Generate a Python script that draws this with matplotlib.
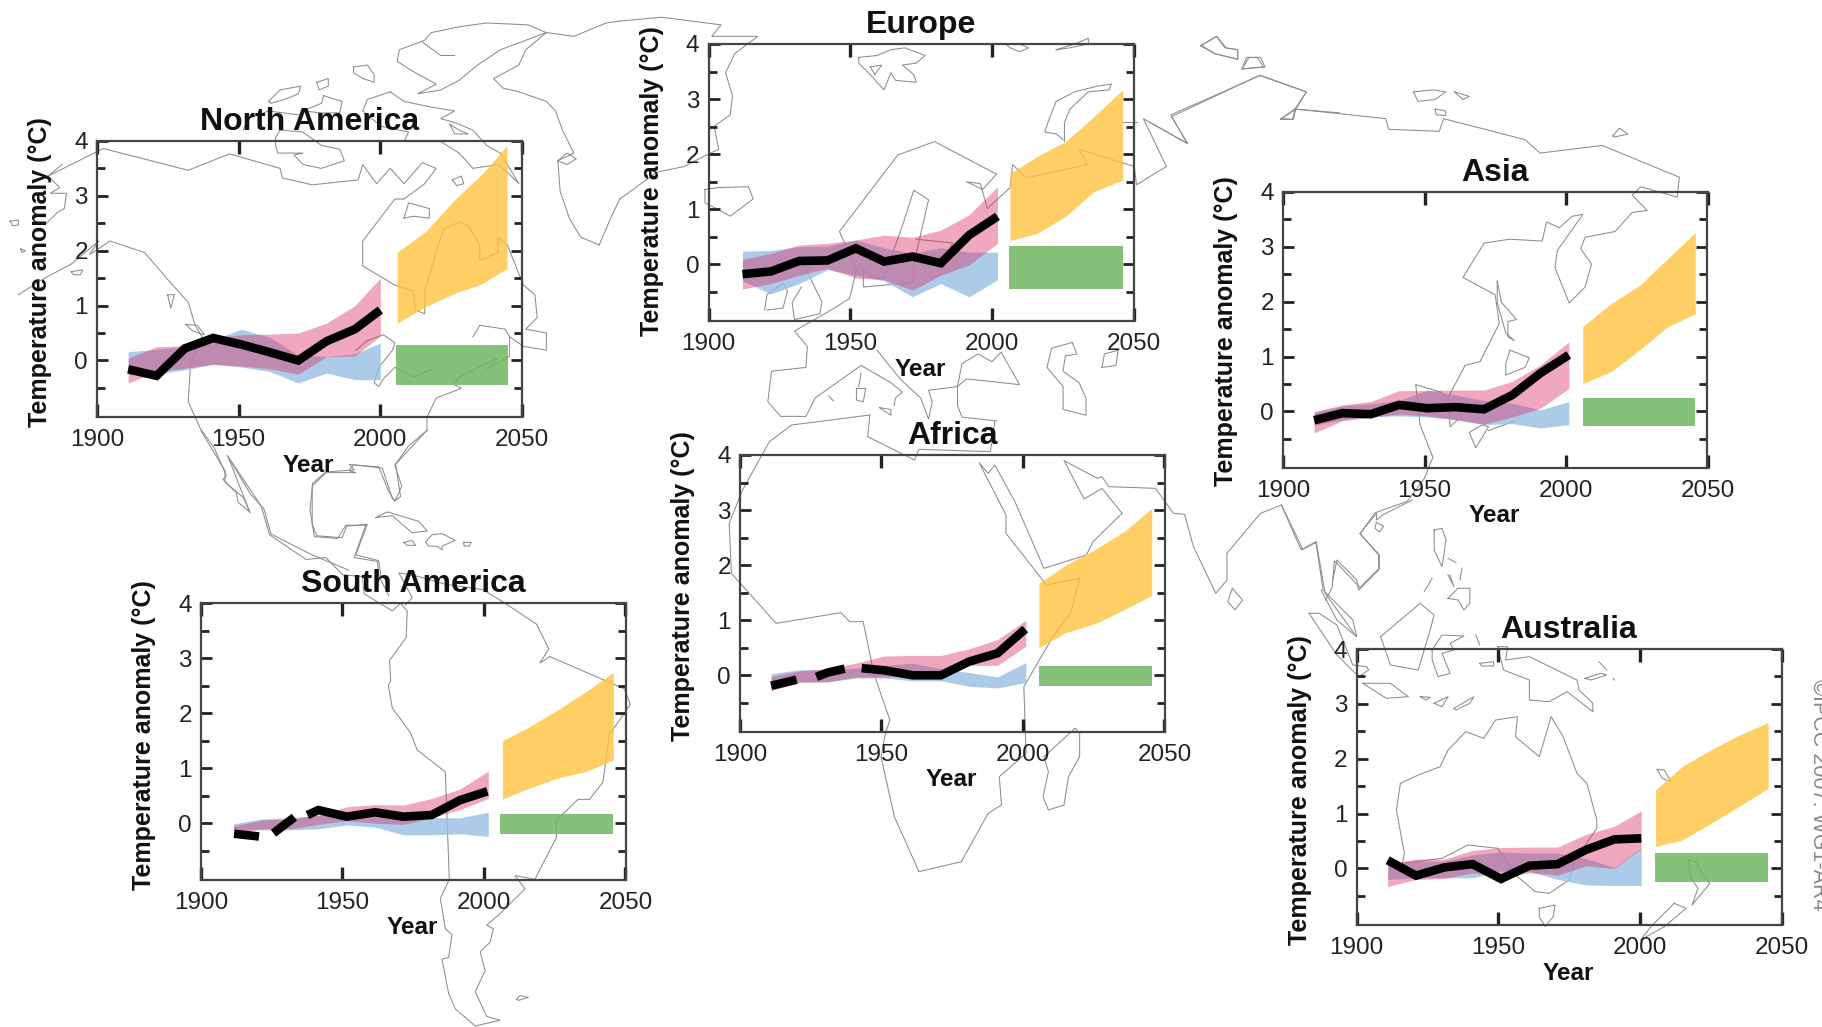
import numpy as np
import matplotlib
matplotlib.use("Agg")
import matplotlib.pyplot as plt

plt.rcParams['font.family'] = ['Liberation Sans', 'DejaVu Sans']

W, H = 1822, 1027

# ---------------- values ----------------
NA_YEARS = [1911, 1921, 1931, 1941, 1951, 1961, 1971, 1981, 1991, 2000]
NA_MEAN_X = [1911, 1921, 1931, 1941, 1951, 1961, 1971, 1981, 1991, 2000]
NA_MEAN = [-0.16, -0.28, 0.22, 0.41, 0.29, 0.15, 0.0, 0.35, 0.57, 0.92]
NA_PINK_HI = [0.04, 0.25, 0.27, 0.42, 0.47, 0.48, 0.5, 0.68, 1.0, 1.5]
NA_PINK_LO = [-0.41, -0.2, -0.14, -0.07, -0.1, -0.15, -0.25, 0.07, 0.08, 0.45]
NA_BLUE_HI = [0.16, 0.2, 0.26, 0.38, 0.57, 0.42, 0.1, 0.07, 0.12, 0.32]
NA_BLUE_LO = [-0.25, -0.25, -0.17, -0.07, -0.12, -0.2, -0.41, -0.23, -0.35, -0.35]
NA_FUT_X = [2005.9, 2016, 2026, 2036, 2044.7]
NA_ORANGE_HI = [1.97, 2.35, 2.92, 3.4, 3.92]
NA_ORANGE_LO = [0.68, 0.98, 1.22, 1.4, 1.68]
NA_GREEN_X = [2005.4, 2045.2]
NA_GREEN = [-0.45, 0.28]

EU_YEARS = [1912, 1922, 1932, 1942, 1952, 1962, 1972, 1982, 1992, 2002]
EU_MEAN_X = [1912, 1922, 1932, 1942, 1952, 1962, 1972, 1982, 1992, 2002]
EU_MEAN = [-0.18, -0.13, 0.06, 0.07, 0.29, 0.05, 0.14, 0.02, 0.53, 0.87]
EU_PINK_HI = [0.09, 0.2, 0.35, 0.38, 0.44, 0.53, 0.49, 0.62, 0.9, 1.41]
EU_PINK_LO = [-0.45, -0.35, -0.2, -0.07, -0.25, -0.28, -0.47, -0.2, -0.01, 0.38]
EU_BLUE_HI = [0.24, 0.25, 0.32, 0.33, 0.44, 0.3, 0.2, 0.3, 0.22, 0.22]
EU_BLUE_LO = [-0.3, -0.54, -0.35, -0.1, -0.2, -0.3, -0.59, -0.35, -0.59, -0.28]
EU_FUT_X = [2006.4, 2016, 2026, 2036, 2046.2]
EU_ORANGE_HI = [1.65, 1.96, 2.23, 2.68, 3.17]
EU_ORANGE_LO = [0.43, 0.56, 0.87, 1.32, 1.53]
EU_GREEN_X = [2006.2, 2046.2]
EU_GREEN = [-0.45, 0.33]

AS_YEARS = [1911, 1921, 1931, 1941, 1951, 1961, 1971, 1981, 1991, 2001]
AS_MEAN_X = [1911, 1921, 1931, 1941, 1951, 1961, 1971, 1981, 1991, 2001]
AS_MEAN = [-0.16, -0.03, -0.05, 0.12, 0.06, 0.08, 0.04, 0.3, 0.7, 1.03]
AS_PINK_HI = [0.0, 0.12, 0.18, 0.38, 0.38, 0.39, 0.39, 0.55, 0.85, 1.27]
AS_PINK_LO = [-0.39, -0.17, -0.1, -0.05, -0.08, -0.15, -0.23, -0.1, 0.06, 0.42]
AS_BLUE_HI = [-0.02, 0.1, 0.14, 0.2, 0.39, 0.3, 0.2, 0.15, 0.03, 0.18]
AS_BLUE_LO = [-0.25, -0.15, -0.1, -0.08, -0.1, -0.15, -0.24, -0.22, -0.3, -0.24]
AS_FUT_X = [2005.9, 2016, 2026, 2036, 2045.7]
AS_ORANGE_HI = [1.55, 1.97, 2.3, 2.79, 3.26]
AS_ORANGE_LO = [0.51, 0.73, 1.12, 1.55, 1.78]
AS_GREEN_X = [2005.9, 2045.7]
AS_GREEN = [-0.27, 0.25]

AF_YEARS = [1911, 1921, 1931, 1941, 1951, 1961, 1971, 1981, 1991, 2001]
AF_MEAN_X = [1911, 1920, np.nan, 1927, 1931, 1937, np.nan, 1943, 1951, 1961, 1971, 1981, 1991, 2000.8]
AF_MEAN = [-0.19, -0.08, np.nan, -0.03, 0.05, 0.12, np.nan, 0.13, 0.09, 0.0, 0.0, 0.25, 0.4, 0.84]
AF_PINK_HI = [-0.02, 0.08, 0.12, 0.22, 0.35, 0.36, 0.36, 0.48, 0.65, 1.0]
AF_PINK_LO = [-0.28, -0.13, -0.12, -0.03, -0.03, -0.02, 0.03, 0.18, 0.18, 0.53]
AF_BLUE_HI = [0.03, 0.1, 0.1, 0.13, 0.18, 0.22, 0.12, 0.05, -0.03, 0.23]
AF_BLUE_LO = [-0.2, -0.12, -0.12, -0.05, -0.05, -0.1, -0.1, -0.2, -0.23, -0.13]
AF_FUT_X = [2005.6, 2015, 2026, 2036, 2045.5]
AF_ORANGE_HI = [1.67, 2.0, 2.3, 2.62, 3.03]
AF_ORANGE_LO = [0.5, 0.77, 0.95, 1.2, 1.45]
AF_GREEN_X = [2005.6, 2045.5]
AF_GREEN = [-0.19, 0.17]

SA_YEARS = [1911.5, 1921.5, 1931.5, 1941.5, 1951.5, 1961.5, 1971.5, 1981.5, 1991.5, 2001.5]
SA_MEAN_X = [1911.7, 1920.5, np.nan, 1925.6, 1933, np.nan, 1937.6, 1941.5, 1951.5, 1961.5, 1971.5, 1981.5, 1991.5, 2001.2]
SA_MEAN = [-0.19, -0.24, np.nan, -0.18, 0.11, np.nan, 0.15, 0.24, 0.12, 0.2, 0.12, 0.15, 0.42, 0.58]
SA_PINK_HI = [-0.05, 0.06, 0.08, 0.15, 0.3, 0.34, 0.33, 0.45, 0.62, 0.95]
SA_PINK_LO = [-0.18, -0.1, -0.1, -0.02, 0.05, 0.0, -0.02, 0.1, 0.25, 0.45]
SA_BLUE_HI = [-0.01, 0.08, 0.1, 0.14, 0.18, 0.18, 0.1, 0.1, 0.1, 0.2]
SA_BLUE_LO = [-0.12, -0.12, -0.12, -0.1, -0.03, -0.07, -0.21, -0.21, -0.19, -0.24]
SA_FUT_X = [2006.5, 2016, 2026, 2036, 2045.7]
SA_ORANGE_HI = [1.5, 1.75, 2.06, 2.39, 2.74]
SA_ORANGE_LO = [0.44, 0.64, 0.82, 0.94, 1.15]
SA_GREEN_X = [2005.6, 2045.5]
SA_GREEN = [-0.2, 0.16]

AU_YEARS = [1911, 1921, 1931, 1941, 1951, 1961, 1971, 1981, 1991, 2000.5]
AU_MEAN_X = [1911, 1921, 1931, 1941, 1951, 1961, 1971, 1981, 1991, 2000.5]
AU_MEAN = [0.15, -0.13, 0.02, 0.08, -0.19, 0.05, 0.08, 0.34, 0.53, 0.55]
AU_PINK_HI = [0.08, 0.17, 0.17, 0.33, 0.38, 0.39, 0.39, 0.62, 0.77, 1.05]
AU_PINK_LO = [-0.33, -0.2, -0.18, -0.08, -0.15, -0.08, -0.12, 0.05, 0.0, 0.37]
AU_BLUE_HI = [0.07, 0.13, 0.13, 0.25, 0.3, 0.28, 0.28, 0.18, 0.02, 0.38]
AU_BLUE_LO = [-0.2, -0.17, -0.17, -0.17, -0.05, -0.05, -0.2, -0.3, -0.31, -0.31]
AU_FUT_X = [2005.5, 2015, 2025, 2035, 2045.3]
AU_ORANGE_HI = [1.43, 1.86, 2.16, 2.43, 2.66]
AU_ORANGE_LO = [0.4, 0.52, 0.82, 1.13, 1.46]
AU_GREEN_X = [2005.5, 2045.3]
AU_GREEN = [-0.24, 0.28]

TITLES = ["North America", "Europe", "Asia", "Africa", "South America", "Australia"]
X_TICKS = [1900, 1950, 2000, 2050]
Y_TICKS = [0, 1, 2, 3, 4]
Y_MINOR = [-0.5, 0.5, 1.5, 2.5, 3.5]
Y_LABEL = "Temperature anomaly (°C)"
X_LABEL = "Year"
CREDIT = "©IPCC 2007: WG1-AR4"

# ---------------- world map outline for the backdrop ----------------
# traced from enlarged views; each group is in its own view's units
COAST_A = [
    [(1305,640),(1265,620),(1240,570),(1220,500),(1215,420),(1250,400),(1225,340),(1210,290),(1190,265),(1130,240),(1095,230),(1075,205),(1130,170),(1145,130),(1190,85),(1250,95),(1320,60),(1350,55)],
    [(1350,520),(1330,570),(1305,640)],
    [(1190,85),(1150,65),(1060,60),(1000,70),(940,85),(925,105),(870,130),(865,160),(890,180),(950,220),(910,245),(960,235),(1000,210),(1040,170),(1090,130),(1190,85)],
    [(920,110),(960,145),(990,145)],
    [(770,175),(800,170),(815,195),(815,215),(790,205),(770,190),(770,175)],
    [(690,215),(715,205),(715,225),(695,235),(690,215)],
    [(585,265),(610,235),(655,225),(650,245),(620,260),(590,270),(585,265)],
    [(705,250),(745,265),(740,295),(700,295),(660,290),(700,270),(705,250)],
    [(850,240),(880,265),(940,280),(990,290),(960,310),(990,320),(1030,340),(1060,380),(1090,400),(1130,480),(1105,450),(1085,430),(1030,440),(1000,400),(960,370),(880,370),(890,345),(830,330),(790,290),(800,260),(850,240)],
    [(600,360),(610,340),(660,345),(700,380),(740,390),(750,420),(700,440),(660,430),(640,405),(660,400),(605,400),(600,380),(600,360)],
    [(530,340),(540,310),(585,290),(650,300)],
    [(980,325),(1000,340),(1020,350),(990,350),(980,325)],
    [(135,430),(105,460),(225,388),(410,445),(500,402),(610,440),(615,465),(680,483),(780,470),(790,430),(820,480),(850,440),(880,480),(920,425),(950,440),(925,480),(880,520),(860,520),(790,630),(790,695),(860,745),(900,760),(905,810),(925,820),(925,760),(965,600),(1000,580),(1020,590),(1045,640),(1045,680),(1085,660),(1085,620),(1105,640),(1140,745),(1165,770),(1170,830),(1145,860),(1190,870),(1190,915),(1140,905),(1110,880),(1110,930),(1060,965),(1085,935),(1000,985),(990,1005),(1005,1015),(950,1040),(930,1090),(930,1125),(890,1165),(860,1215),(875,1270),(860,1310),(845,1280),(825,1220),(770,1215),(760,1230),(775,1235),(710,1235),(680,1270),(680,1370),(690,1400),(745,1405),(755,1375),(800,1370),(775,1450),(825,1465),(830,1510)],
    [(1030,880),(1045,850),(1100,860),(1110,880)],
    [(880,570),(890,530),(935,545),(935,570),(900,565),(880,570)],
    [(985,470),(1005,460),(1010,480),(995,485),(985,470)],
    [(1215,420),(1235,400),(1255,415),(1235,430),(1215,420)],
    [(775,915),(800,890),(835,875),(860,895),(855,915),(825,960),(815,1000),(825,1010),(835,990),(860,960),(900,985),(940,965)],
    [(105,460),(130,490),(110,505),(145,505),(140,545),(125,555),(100,585)],
    [(40,770),(100,725),(155,690),(215,630),(195,665),(240,630),(315,660),(365,730),(410,790),(425,850),(440,880),(415,950),(410,1050),(440,1130),(490,1230),(490,1260),(530,1300),(545,1340)],
    [(495,1190),(545,1290),(575,1330),(590,1395),(680,1450),(760,1490)],
    [(22,578),(40,575),(40,588),(28,590),(22,578)],
    [(45,650),(55,655),(48,660),(45,650)],
    [(155,710),(180,705),(175,718),(160,718),(155,710)],
    [(365,770),(380,770),(372,805),(365,770)],
    [(405,848),(430,850),(445,875),(420,865),(405,848)],
]
COAST_B = [
    [(0,55),(90,45),(220,65),(200,95),(300,95),(250,140),(230,190),(245,250),(240,300),(205,330),(215,390),(180,410),(140,435),(80,450),(0,520)],
    [(185,495),(215,490),(280,488),(290,520),(240,565),(210,545),(185,530),(185,495)],
    [(520,150),(560,145),(590,130),(620,125),(665,145),(645,165),(615,170),(640,195),(645,215),(600,210),(590,190),(575,235),(545,195),(520,165),(520,150)],
    [(545,175),(570,170),(555,195),(545,175)],
    [(840,115),(870,115),(890,125),(870,135),(850,125),(840,115)],
    [(950,130),(990,115),(1020,100),(1020,115),(980,125),(950,130)],
    [(1070,220),(1040,225),(990,240),(950,265),(935,310),(925,345),(950,350),(965,365)],
    [(1070,220),(1065,235),(1020,240),(980,285),(968,320),(968,370)],
    [(820,455),(685,370),(605,405),(478,605),(515,705),(500,780),(460,810),(380,865),(408,905),(405,960),(330,970),(322,1050),(350,1088),(405,1088),(425,1040),(525,955),(590,1000),(615,1025),(600,1040),(597,1060)],
    [(530,705),(530,750),(640,738),(640,690),(672,522),(640,497),(615,590),(575,725),(555,725),(530,705)],
    [(645,625),(725,635),(695,695)],
    [(820,455),(790,495),(755,475),(785,480),(800,545),(850,490),(855,430),(885,465),(1018,430),(1000,390),(1120,435),(1125,483),(1190,435),(1140,310),(1235,375),(1200,300),(1395,197),(1495,240),(1470,285),(1568,295)],
    [(1125,320),(1095,320)],
    [(1440,310),(1470,285),(1465,312),(1440,310)],
    [(315,810),(320,770),(355,740),(365,760),(355,805),(320,810)],
    [(400,690),(440,790),(435,820),(380,835),(375,790),(395,750)],
    [(1265,120),(1300,95),(1320,125),(1345,130),(1345,155),(1295,140),(1265,120)],
    [(1355,180),(1370,150),(1395,150),(1405,175),(1355,180)],
    [(985,895),(940,910),(930,960),(965,1010),(965,1070),(1015,1085),(1015,1040),(1000,1000),(965,970),(970,930),(995,925),(985,895)],
    [(560,915),(610,990),(655,1040),(672,1095),(680,1050),(672,1020),(735,1010),(755,990),(870,1005),(830,920),(810,945),(780,925),(745,950),(735,1010),(735,1060),(745,1090),(820,1100)],
    [(515,1015),(535,1015),(530,1050),(515,1045),(515,1015)],
    [(525,975),(520,1010)],
    [(565,1065),(590,1070),(590,1085),(565,1065)],
    [(455,1035),(465,1048)],
    [(1050,960),(1055,925),(1085,915),(1080,955),(1050,960)],
]
COAST_C = [
    [(0,320),(88,375),(50,305),(255,197),(365,240),(340,285),(550,310),(557,338),(675,343),(685,310),(875,365),(910,400),(1055,380),(1235,463),(1230,515),(1145,488),(1125,510),(1160,550),(1125,555),(1085,605),(1015,620),(1005,650),(1030,690),(1015,750),(978,792),(945,700),(950,655),(1010,560),(985,565),(955,595),(925,580),(915,630),(840,625),(780,635),(730,725),(805,770),(815,845),(770,945),(735,955),(695,1040),(700,1115),(720,1095)],
    [(620,1005),(680,1025),(695,1040)],
    [(620,1005),(630,1110),(660,1195),(640,1250),(600,1310),(525,1340),(490,1395),(535,1450),(535,1485),(490,1535),(430,1465),(425,1535),(410,1568)],
    [(810,735),(820,790),(855,835),(835,840),(835,880),(850,890),(830,870),(810,790),(810,735)],
    [(840,915),(885,935),(875,960),(830,980),(830,950),(840,915)],
    [(745,1130),(775,1110),(790,1115),(760,1170),(745,1130)],
    [(790,1125),(850,1100)],
    [(528,1365),(545,1375),(535,1390),(525,1380),(528,1365)],
    [(120,118),(155,95),(175,125),(205,130),(205,155),(150,140),(120,118)],
    [(215,180),(225,150),(250,150),(265,175),(215,180)],
    [(615,240),(660,235),(690,240),(665,260),(625,265),(615,240)],
    [(710,240),(745,252),(730,260),(710,240)],
    [(665,285),(690,290),(690,302),(668,300),(665,285)],
    [(1080,355),(1095,335),(1115,350),(1085,358),(1080,355)],
    [(305,312),(340,285),(335,312),(305,312)],
]
COAST_D = [
    [(65,0),(105,50),(140,120),(130,130),(170,165),(175,190),(210,215),(145,70),(245,200),(270,275),(380,340),(440,335),(490,380),(550,385),(555,430),(640,475),(665,455),(685,475),(682,545),(632,605),(635,660),(628,670),(640,730),(695,795),(715,840),(800,898),(812,1180),(785,1230),(800,1310),(820,1325),(810,1385),(790,1390),(810,1480),(830,1520),(890,1565),(965,1550),(925,1540),(890,1475),(920,1420),(905,1370),(935,1345),(945,1310),(925,1300),(965,1270),(1040,1205),(1010,1170),(1070,1180),(1135,1070),(1135,1025),(1200,970),(1235,970),(1275,925),(1295,800),(1358,720),(1340,680),(1115,595),(1085,612),(1112,575),(1075,510),(980,455),(915,420),(880,415),(800,405),(720,385),(660,375),(700,440),(680,460)],
    [(630,435),(600,385),(595,345),(525,335),(560,250),(500,250),(475,285),(405,280),(392,210),(400,140),(440,110),(525,105),(510,90),(610,100),(640,180),(650,185),(665,175),(650,90),(745,0)],
    [(590,230),(625,215),(720,240),(745,265),(700,270),(640,225),(590,230)],
    [(740,295),(760,275),(790,272),(830,290),(790,305),(790,315),(775,305),(750,305),(740,295)],
    [(675,295),(700,290),(710,303),(685,303),(675,295)],
    [(855,295),(878,295),(872,305),(857,305),(855,295)],
    [(1015,1495),(1025,1485),(1050,1490),(1020,1498),(1015,1495)],
]
COAST_E = [
    [(470,105),(295,135),(245,185),(185,330),(155,430),(160,580),(260,730),(405,698),(425,725),(455,725),(480,885),(515,1020),(505,1060),(495,1130),(525,1310),(580,1475),(675,1445),(735,1300),(765,1275),(760,1190),(820,1120),(815,920),(880,770),(920,700),(940,595),(865,615),(860,605),(775,460),(775,405),(715,248),(735,280),(750,255),(795,365),(860,565),(955,525),(970,485),(1035,400),(990,325),(950,357),(905,242),(980,295),(990,290),(1005,320),(1110,325),(1150,400),(1175,403),(1195,500),(1245,640),(1270,600),(1270,520),(1345,400),(1392,375),(1440,508),(1470,487),(1490,640),(1560,770)],
    [(470,105),(465,170),(570,240),(580,208),(740,215),(750,125)],
    [(930,1045),(860,1130),(870,1175),(858,1250),(870,1290),(905,1275),(915,1190),(940,1130),(940,1060),(930,1045)],
    [(1282,625),(1305,660),(1288,690),(1272,665),(1282,625)],
]
COAST_F = [
    [(292,125),(255,150),(205,15)],
    [(292,125),(310,270),(385,360),(395,410),(345,360),(305,270)],
    [(335,240),(345,180),(395,240),(400,270),(450,210),(450,165),(403,100),(445,40),(445,60),(460,45),(535,0)],
    [(275,340),(300,340),(345,375),(385,495),(420,500),(425,510),(400,530),(345,465),(275,340)],
    [(410,550),(480,550),(525,590),(470,595),(410,550)],
    [(555,590),(580,592),(570,600),(555,590)],
    [(590,610),(625,590),(610,620),(590,610)],
    [(640,625),(690,590),(680,610),(645,630),(640,625)],
    [(455,410),(555,310),(590,345),(580,390),(550,510),(480,495),(455,410)],
    [(585,450),(610,405),(665,408),(630,430),(640,450),(610,460),(630,520),(600,530),(585,480),(585,450)],
    [(565,275),(585,235)],
    [(590,90),(610,85),(620,120),(610,200),(590,150),(590,90)],
    [(625,295),(650,265),(680,265),(680,310),(665,330),(650,300),(625,295)],
    [(625,175),(645,188)],
    [(625,225),(640,260),(630,225)],
    [(660,205),(655,240)],
    [(750,440),(775,440),(770,480),(830,470),(950,540),(955,570),(990,610),(990,635),(925,575),(880,605),(830,600),(830,540),(765,510),(750,440)],
    [(705,490),(740,485),(740,498),(710,498),(705,490)],
    [(695,405),(705,435)],
    [(970,535),(1010,520),(1025,525),(985,540),(970,535)],
    [(1005,485),(1025,510)],
    [(1040,535),(1045,540)],
    [(505,850),(550,825),(605,800),(625,750),(670,695),(715,715),(745,660),(800,650),(795,710),(855,770),(885,650),(915,710),(950,820),(975,850),(1000,960),(1000,985),(945,1080),(930,1140),(880,1180),(845,1175),(800,1130),(750,1045),(675,1035),(610,1075),(510,1090),(515,1060),(495,930),(505,850)],
    [(855,1225),(895,1215),(890,1250),(870,1280),(855,1250),(855,1225)],
    [(1230,1080),(1250,1085),(1265,1120),(1285,1150),(1240,1215),(1255,1165),(1235,1130),(1230,1080)],
    [(1195,1210),(1225,1225),(1170,1280),(1110,1320),(1140,1275),(1195,1210)],
    [(1152,808),(1170,810),(1187,845),(1165,835),(1152,808)],
]

# ---------------- layout ----------------
MAP_VIEWS = [
    (COAST_A, 0, 0, 2.178, 2.613),
    (COAST_B, 620, 0, 2.178, 2.613),
    (COAST_C, 1150, 0, 2.333, 2.613),
    (COAST_D, 180, 430, 3.015, 2.626),
    (COAST_E, 660, 380, 2.24, 3.0),
    (COAST_F, 1200, 500, 2.52, 3.0),
]
BOXES = [(97, 522, 141, 417), (708.5, 1133.5, 44, 321), (1283, 1707.5, 192, 468),
         (740, 1164.5, 455, 732), (201, 625.5, 603, 880), (1356.5, 1781.5, 649, 925)]
YLABEL_SHIFT = [-7, -1, 1, -7, -6, 3]
SERIES = [
    (NA_YEARS, NA_MEAN_X, NA_MEAN, NA_PINK_HI, NA_PINK_LO, NA_BLUE_HI, NA_BLUE_LO, NA_FUT_X, NA_ORANGE_HI, NA_ORANGE_LO, NA_GREEN_X, NA_GREEN),
    (EU_YEARS, EU_MEAN_X, EU_MEAN, EU_PINK_HI, EU_PINK_LO, EU_BLUE_HI, EU_BLUE_LO, EU_FUT_X, EU_ORANGE_HI, EU_ORANGE_LO, EU_GREEN_X, EU_GREEN),
    (AS_YEARS, AS_MEAN_X, AS_MEAN, AS_PINK_HI, AS_PINK_LO, AS_BLUE_HI, AS_BLUE_LO, AS_FUT_X, AS_ORANGE_HI, AS_ORANGE_LO, AS_GREEN_X, AS_GREEN),
    (AF_YEARS, AF_MEAN_X, AF_MEAN, AF_PINK_HI, AF_PINK_LO, AF_BLUE_HI, AF_BLUE_LO, AF_FUT_X, AF_ORANGE_HI, AF_ORANGE_LO, AF_GREEN_X, AF_GREEN),
    (SA_YEARS, SA_MEAN_X, SA_MEAN, SA_PINK_HI, SA_PINK_LO, SA_BLUE_HI, SA_BLUE_LO, SA_FUT_X, SA_ORANGE_HI, SA_ORANGE_LO, SA_GREEN_X, SA_GREEN),
    (AU_YEARS, AU_MEAN_X, AU_MEAN, AU_PINK_HI, AU_PINK_LO, AU_BLUE_HI, AU_BLUE_LO, AU_FUT_X, AU_ORANGE_HI, AU_ORANGE_LO, AU_GREEN_X, AU_GREEN),
]

fig = plt.figure(figsize=(W / 100, H / 100), dpi=100, facecolor='white')

# backdrop map in pixel units
bg = fig.add_axes([0, 0, 1, 1], zorder=0)
bg.set_xlim(0, W)
bg.set_ylim(H, 0)
bg.axis('off')
for coast, x0, y0, sx, sy in MAP_VIEWS:
    for poly in coast:
        pts = np.array(poly, dtype=float)
        bg.plot(x0 + pts[:, 0] / sx, y0 + pts[:, 1] / sy, color='#8c8c8c', lw=0.75,
                solid_joinstyle='round', clip_on=True)


def px(x, y):
    return x / W, 1 - y / H


for title, box, shift, data in zip(TITLES, BOXES, YLABEL_SHIFT, SERIES):
    l, r, t, b = box
    yrs, mx, my, phi, plo, bhi, blo, fx, ohi, olo, gx, g = data
    ax = fig.add_axes([l / W, 1 - b / H, (r - l) / W, (b - t) / H], zorder=2)
    ax.patch.set_alpha(0)
    ax.set_xlim(1900, 2050)
    ax.set_ylim(-1.03, 4)
    ax.fill_between(yrs, blo, bhi, color='#98BEE4', alpha=0.8, lw=0, zorder=2)
    ax.fill_between(yrs, plo, phi, color='#DA3569', alpha=0.43, lw=0, zorder=3)
    ax.fill_between(gx, [g[0]] * 2, [g[1]] * 2, color='#70B760', alpha=0.85, lw=0, zorder=3)
    ax.fill_between(fx, olo, ohi, color='#FFC340', alpha=0.8, lw=0, zorder=3)
    ax.plot(mx, my, color='black', lw=6.2, solid_capstyle='butt', solid_joinstyle='miter', zorder=4)

    ax.set_xticks(X_TICKS)
    ax.set_yticks(Y_TICKS)
    ax.set_yticks(Y_MINOR, minor=True)
    ax.tick_params(axis='x', which='major', direction='in', top=True, bottom=True, length=9.5, width=2.4,
                   color='#222222', labelsize=17.5, labelcolor='#222222', pad=8.5)
    ax.tick_params(axis='y', which='major', direction='in', left=True, right=True, length=8, width=2.0,
                   color='#222222', labelsize=17.5, labelcolor='#222222', pad=6.5)
    ax.tick_params(axis='y', which='minor', direction='in', left=True, right=True, length=5.5, width=2.0,
                   color='#222222')
    for s in ax.spines.values():
        s.set_linewidth(1.6)
        s.set_color('#444444')

    x, y = px((l + r) / 2, t - 11)
    fig.text(x, y, title, ha='center', va='baseline', fontsize=23, fontweight='bold', color='#111111')
    x, y = px((l + r) / 2 - 1, b + 54.5)
    fig.text(x, y, X_LABEL, ha='center', va='baseline', fontsize=17.5, fontweight='bold', color='#111111')
    x, y = px(l - 57, (t + b) / 2 + shift)
    fig.text(x, y, Y_LABEL, ha='center', va='center', rotation=90, fontsize=18, fontweight='bold', color='#111111')

x, y = px(1819, 795)
fig.text(x, y, CREDIT, ha='center', va='center', rotation=-90, fontsize=15.5, color='#8a8a8a')

fig.savefig('out.png', dpi=100, facecolor='white')
